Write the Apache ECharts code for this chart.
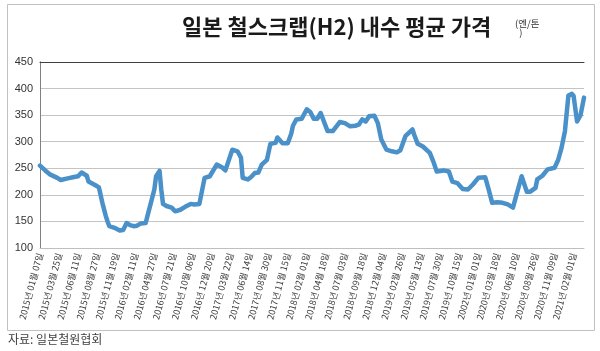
<!DOCTYPE html>
<html>
<head>
<meta charset="utf-8">
<script src="https://cdn.jsdelivr.net/npm/echarts@6/dist/echarts.min.js"></script>
<style>
  html, body { margin: 0; padding: 0; background: #fff; }
  #main { width: 600px; height: 351px; }
</style>
</head>
<body>
<div id="main"></div>
<script>
// 일본 철스크랩(H2) 내수 평균 가격, 주간 (엔/톤)
var xLabels = ['2015년 01월 07일', '2015년 03월 25일', '2015년 06월 11일', '2015년 08월 27일', '2015년 11월 19일',
  '2016년 02월 11일', '2016년 04월 27일', '2016년 07월 21일', '2016년 10월 06일', '2016년 12월 20일',
  '2017년 03월 22일', '2017년 06월 14일', '2017년 08월 30일', '2017년 11월 15일', '2018년 02월 01일',
  '2018년 04월 18일', '2018년 07월 03일', '2018년 09월 18일', '2018년 12월 04일', '2019년 02월 26일',
  '2019년 05월 13일', '2019년 07월 30일', '2019년 10월 15일', '2002년 01월 01일', '2020년 03월 18일',
  '2020년 06월 10일', '2020년 08월 26일', '2020년 11월 09일', '2021년 02월 01일'];
var labelStep = 11; // 라벨 간격 (주)
var lastWeek = 314;

var weeks = [0, 3, 6, 10, 12, 13, 16, 19, 22, 24,
  25, 27, 28, 32, 34, 36, 38, 39, 40, 43,
  46, 48, 50, 52, 54, 56, 58, 61, 62, 64,
  66, 67, 69, 70, 71, 73, 76, 78, 81, 84,
  87, 89, 92, 95, 98, 102, 105, 107, 111, 114,
  116, 117, 120, 122, 124, 126, 128, 131, 133, 136,
  137, 140, 143, 145, 146, 148, 151, 154, 156, 158,
  160, 162, 166, 169, 170, 173, 176, 179, 182, 184,
  186, 188, 190, 193, 195, 197, 200, 203, 206, 208,
  211, 215, 216, 218, 221, 225, 227, 229, 233, 236,
  238, 241, 244, 247, 250, 253, 257, 259, 261, 264,
  267, 270, 273, 275, 278, 281, 283, 286, 287, 290,
  293, 297, 299, 301, 303, 305, 307, 308, 310, 312,
  314];
var prices = [255, 246, 238, 232, 228, 227, 231, 233, 235, 242,
  243, 236, 225, 218, 214, 185, 160, 150, 141, 138,
  133, 134, 147, 143, 141, 142, 146, 147, 160, 185,
  210, 235, 245, 210, 183, 179, 176, 169, 172, 178,
  183, 182, 183, 232, 235, 257, 252, 246, 285, 282,
  270, 232, 229, 234, 241, 242, 257, 266, 296, 298,
  308, 297, 297, 315, 330, 342, 343, 361, 356, 343,
  343, 354, 320, 320, 323, 337, 335, 329, 330, 332,
  342, 338, 348, 349, 335, 304, 285, 282, 280, 284,
  311, 323, 313, 296, 291, 279, 263, 244, 246, 244,
  225, 222, 211, 210, 220, 232, 233, 210, 185, 186,
  185, 182, 176, 200, 235, 206, 206, 213, 229, 236,
  248, 251, 265, 288, 320, 387, 390, 386, 338, 350,
  383];

var yMin = 100, yMax = 450, yStep = 50;

var seriesData = [];
for (var i = 0; i < weeks.length; i++) {
  seriesData.push([weeks[i], prices[i]]);
}

var chart = echarts.init(document.getElementById('main'));
var font = '"Noto Sans CJK KR", "Noto Sans", sans-serif';

chart.setOption({
  animation: false,
  backgroundColor: '#fff',
  title: {
    text: '일본 철스크랩(H2) 내수 평균 가격',
    left: 177,
    top: 11,
    textStyle: { fontFamily: font, fontSize: 22, fontWeight: 'bold', color: '#1a1a1a' }
  },
  grid: { left: 40, right: 16, top: 62, bottom: 103, containLabel: false },
  xAxis: [{
    type: 'value',
    min: 0,
    max: lastWeek,
    interval: labelStep,
    splitLine: { show: false },
    axisTick: { show: false },
    axisLine: { lineStyle: { color: '#bfbfbf' } },
    axisLabel: {
      rotate: 75,
      margin: 5,
      fontFamily: font,
      fontSize: 9,
      color: '#404040',
      formatter: function (v) {
        if (v % labelStep !== 0) return '';
        return xLabels[v / labelStep] || '';
      }
    }
  }, {
    type: 'value',
    position: 'top',
    min: 0,
    max: lastWeek,
    axisLine: { show: true, lineStyle: { color: '#404040' } },
    axisTick: { show: false },
    axisLabel: { show: false },
    splitLine: { show: false }
  }],
  yAxis: [{
    type: 'value',
    min: yMin,
    max: yMax,
    interval: yStep,
    axisLine: { show: true, lineStyle: { color: '#a6a6a6' } },
    axisTick: { show: false },
    splitLine: { lineStyle: { color: '#c4c4c4' } },
    axisLabel: { fontFamily: '"Liberation Sans", Arial, sans-serif', fontSize: 11, color: '#333', margin: 7 }
  }, {
    type: 'value',
    position: 'right',
    min: yMin,
    max: yMax,
    axisLine: { show: true, lineStyle: { color: '#808080' } },
    axisTick: { show: false },
    axisLabel: { show: false },
    splitLine: { show: false }
  }],
  series: [{
    type: 'line',
    data: seriesData,
    showSymbol: false,
    lineStyle: { color: '#4a90c9', width: 4.5, join: 'round', cap: 'round' },
    itemStyle: { color: '#4a90c9' }
  }],
  graphic: [{
    type: 'rect',
    shape: { x: 7.5, y: 4.5, width: 587, height: 326 },
    style: { fill: 'none', stroke: '#c0c0c0', lineWidth: 1 },
    silent: true
  }, {
    type: 'text',
    left: 515,
    top: 19,
    style: { text: '(엔/톤\n  )', fontFamily: font, fontSize: 9.5, lineHeight: 9, fill: '#333' }
  }, {
    type: 'text',
    left: 8,
    top: 333,
    style: { text: '자료: 일본철원협회', fontFamily: font, fontSize: 12, fill: '#404040' }
  }]
});
</script>
</body>
</html>
